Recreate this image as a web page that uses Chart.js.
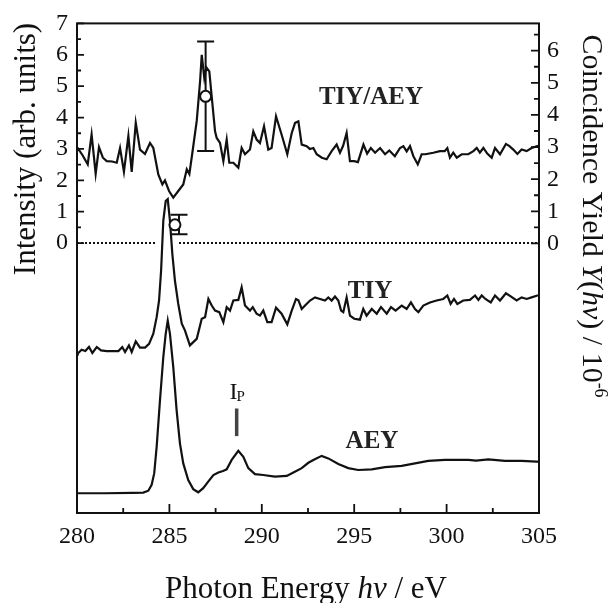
<!DOCTYPE html>
<html><head><meta charset="utf-8">
<script src="https://cdn.jsdelivr.net/npm/chart.js@4.4.0/dist/chart.umd.min.js"></script>
<style>html,body{margin:0;padding:0;background:#fff;}#wrap{width:614px;height:603px;position:relative;}</style>
</head><body><div id="wrap"><canvas id="c" width="614" height="603"></canvas></div>
<script>
// ---- data (photon energy in eV, intensity in arb. units on the left axis) ----
const ratioE=[280.0,280.07,280.3,280.58,280.79,281.01,281.19,281.4,281.61,281.9,
282.15,282.33,282.54,282.78,282.96,283.18,283.41,283.68,283.95,284.13,
284.40,284.62,284.76,284.98,285.21,285.48,285.75,285.94,286.08,286.26,
286.48,286.66,286.75,286.89,287.0,287.16,287.3,287.47,287.56,287.74,
287.92,288.10,288.24,288.46,288.73,288.91,289.09,289.36,289.54,289.72,
289.90,290.12,290.35,290.53,290.77,291.07,291.38,291.62,291.80,291.98,
292.16,292.43,292.6,292.79,292.97,293.25,293.51,293.78,294.05,294.23,
294.4,294.59,294.77,295.0,295.2,295.5,295.7,295.9,296.13,296.4,
296.67,296.9,297.2,297.48,297.66,297.84,298.02,298.2,298.44,298.65,
298.85,299.28,299.64,299.9,300.04,300.18,300.36,300.55,300.82,301.17,
301.45,301.63,301.8,301.99,302.2,302.44,302.62,302.89,303.21,303.4,
303.61,303.83,304.06,304.33,304.6,304.91,305.0];
const ratioV=[2.95,3.0,2.8,2.51,3.46,2.21,3.06,2.72,2.61,2.6,
2.56,3.03,2.27,3.41,2.27,3.83,2.98,2.84,3.19,3.03,
2.19,1.87,2.0,1.66,1.45,1.66,1.87,2.35,2.2,2.95,
3.9,5.15,6.0,5.26,5.6,5.47,4.6,3.56,3.35,3.19,
2.61,3.30,2.56,2.56,2.40,3.03,2.83,2.98,3.56,3.30,
3.19,3.72,2.98,3.03,4.04,3.46,2.83,3.51,3.83,3.88,
3.14,3.09,3.0,3.03,2.83,2.72,2.67,2.93,3.14,2.88,
3.1,3.51,2.61,2.61,2.58,3.14,2.85,3.03,2.88,3.03,
2.83,2.95,2.77,3.03,3.09,2.92,3.09,2.77,2.51,2.83,
2.83,2.88,2.93,2.93,3.03,2.72,2.88,2.72,2.83,2.83,
2.93,3.03,2.88,3.03,2.85,2.72,3.03,2.83,3.16,3.09,
2.98,2.84,2.98,2.93,3.03,3.09,3.1];
const tiyE=[280.0,280.04,280.25,280.45,280.65,280.83,281.07,281.3,281.61,282.24,
282.45,282.6,282.81,282.96,283.18,283.41,283.68,283.9,284.13,284.31,
284.44,284.55,284.67,284.80,284.91,285.03,285.16,285.30,285.48,285.67,
285.84,286.11,286.39,286.48,286.75,286.93,287.11,287.29,287.47,287.70,
287.92,288.10,288.28,288.46,288.73,288.91,289.09,289.36,289.51,289.72,
289.90,290.08,290.30,290.53,290.77,291.07,291.38,291.62,291.85,291.98,
292.16,292.34,292.61,292.88,293.15,293.42,293.6,293.78,293.96,294.14,
294.29,294.41,294.59,294.77,295.0,295.31,295.49,295.67,295.95,296.22,
296.45,296.76,296.99,297.24,297.57,297.84,298.07,298.29,298.47,298.74,
299.10,299.46,299.82,300.04,300.22,300.40,300.58,300.90,301.26,301.54,
301.72,301.90,302.1,302.39,302.62,302.89,303.21,303.47,303.79,304.06,
304.33,304.60,304.91,305.0];
const tiyV=[-3.5,-3.52,-3.40,-3.44,-3.31,-3.50,-3.31,-3.42,-3.44,-3.44,
-3.31,-3.47,-3.26,-3.47,-3.13,-3.33,-3.33,-3.21,-2.89,-2.36,
-1.83,-0.88,0.71,1.34,1.40,0.71,-0.35,-1.2,-1.94,-2.57,
-2.78,-3.26,-3.10,-3.05,-2.41,-2.36,-1.78,-1.99,-2.15,-2.20,
-2.52,-2.04,-2.15,-1.83,-1.81,-1.41,-1.99,-2.15,-2.04,-2.25,
-2.31,-2.15,-2.52,-2.52,-2.06,-2.25,-2.59,-2.15,-1.78,-1.82,
-2.10,-1.99,-1.83,-1.73,-1.78,-1.83,-1.73,-1.83,-1.70,-1.83,
-2.15,-2.20,-1.73,-2.31,-2.41,-2.44,-2.10,-2.31,-2.10,-2.25,
-2.04,-2.25,-2.04,-2.15,-1.99,-2.10,-1.89,-2.10,-2.20,-1.99,
-1.89,-1.83,-1.78,-1.67,-1.94,-1.78,-1.94,-1.83,-1.81,-1.67,
-1.81,-1.67,-1.78,-1.89,-1.67,-1.83,-1.60,-1.70,-1.83,-1.73,
-1.78,-1.73,-1.67,-1.67];
const aeyE=[280.0,281.5,283.0,283.59,283.86,284.04,284.18,284.31,284.49,284.67,
284.80,284.91,285.03,285.21,285.39,285.57,285.75,286.02,286.29,286.56,
286.83,287.10,287.38,287.65,287.9,288.10,288.37,288.73,289.0,289.27,
289.63,290.08,290.71,291.35,291.71,292.16,292.52,292.79,293.24,293.6,
294.14,294.68,295.22,295.95,296.67,297.57,298.29,299.01,299.91,301.17,
301.6,302.26,303.16,304.06,304.87,305.0];
const aeyV=[-7.97,-7.97,-7.96,-7.95,-7.89,-7.70,-7.33,-6.49,-5.01,-3.63,
-2.89,-2.47,-2.89,-3.95,-5.32,-6.38,-7.02,-7.55,-7.84,-7.94,
-7.81,-7.60,-7.39,-7.31,-7.26,-7.21,-6.91,-6.62,-6.81,-7.17,
-7.36,-7.39,-7.44,-7.42,-7.31,-7.17,-7.0,-6.91,-6.78,-6.86,
-7.04,-7.17,-7.23,-7.21,-7.14,-7.10,-7.02,-6.94,-6.91,-6.91,
-6.93,-6.89,-6.94,-6.94,-6.96,-6.96];
// dotted zero line segments (interrupted at the TIY peak)
const zeroStart=[280,285.52];
const zeroEnd=[284.33,305];
// coincidence yield points (right axis, 10^-6) with error bars
const coinE=[286.96,285.30];
const coinY=[4.58,0.58];
const errE=[286.96,285.52];
const errLo=[2.88,0.29];
const errHi=[6.29,0.89];
// ionisation potential marker (left axis units)
const ipE=[288.64];
const ipLo=[-6.15];
const ipHi=[-5.27];
// ticks
const xTicks=[280,282.5,285,287.5,290,292.5,295,297.5,300,302.5,305];
const xLabels=[280,285,290,295,300,305];
const yTicks=[0,0.5,1,1.5,2,2.5,3,3.5,4,4.5,5,5.5,6,6.5,7];
const yLabels=[0,1,2,3,4,5,6,7];
const y2Ticks=[0,0.5,1,1.5,2,2.5,3,3.5,4,4.5,5,5.5,6,6.5];
const y2Labels=[0,1,2,3,4,5,6];
const curveNames=['TIY/AEY','TIY','AEY'];

const SERIF='"Liberation Serif","Times New Roman",serif';
const INK='#111';
const pts=(E,V)=>E.map((x,i)=>({x:x,y:V[i]}));
const zeroPts=[];
zeroStart.forEach((s,i)=>{zeroPts.push({x:s,y:0},{x:zeroEnd[i],y:0},{x:zeroEnd[i]+0.001,y:null});});

function rich(ctx,segs,x,y){
  let w=0;segs.forEach(s=>{ctx.font=s.f;w+=ctx.measureText(s.t).width;});
  let cx=x-w/2;
  segs.forEach(s=>{ctx.font=s.f;ctx.fillText(s.t,cx,y+(s.dy||0));cx+=ctx.measureText(s.t).width;});
}

const deco={
  id:'deco',
  beforeDatasetsDraw(chart){
    const {ctx,scales}=chart;ctx.save();
    ctx.strokeStyle=INK;ctx.lineWidth=2;
    errE.forEach((e,i)=>{
      const px=scales.x.getPixelForValue(e);
      const t=scales.y2.getPixelForValue(errHi[i]),b=scales.y2.getPixelForValue(errLo[i]);
      ctx.beginPath();ctx.moveTo(px,t);ctx.lineTo(px,b);
      ctx.moveTo(px-8.5,t);ctx.lineTo(px+8.5,t);
      ctx.moveTo(px-8.5,b);ctx.lineTo(px+8.5,b);ctx.stroke();
    });
    ctx.strokeStyle='#444';ctx.lineWidth=3.5;
    ipE.forEach((e,i)=>{
      const px=scales.x.getPixelForValue(e);
      ctx.beginPath();ctx.moveTo(px,scales.y.getPixelForValue(ipHi[i]));ctx.lineTo(px,scales.y.getPixelForValue(ipLo[i]));ctx.stroke();
    });
    ctx.restore();
  },
  afterDraw(chart){
    const {ctx,chartArea:a,scales}=chart;ctx.save();
    ctx.strokeStyle=INK;ctx.lineWidth=2;
    ctx.strokeRect(a.left,a.top,a.right-a.left,a.bottom-a.top);
    ctx.lineWidth=1.8;ctx.beginPath();
    xTicks.forEach(v=>{const p=scales.x.getPixelForValue(v);const L=v%5===0?9:5;ctx.moveTo(p,a.bottom);ctx.lineTo(p,a.bottom-L);});
    yTicks.forEach(v=>{const p=scales.y.getPixelForValue(v);const L=Number.isInteger(v)?7:4;ctx.moveTo(a.left,p);ctx.lineTo(a.left+L,p);});
    y2Ticks.forEach(v=>{const p=scales.y2.getPixelForValue(v);const L=Number.isInteger(v)?8:5;ctx.moveTo(a.right,p);ctx.lineTo(a.right-L,p);});
    ctx.stroke();
    ctx.fillStyle=INK;ctx.textBaseline='alphabetic';ctx.textAlign='left';
    // x title
    rich(ctx,[{t:'Photon Energy ',f:'31px '+SERIF},{t:'hν',f:'italic 31px '+SERIF},{t:' / eV',f:'31px '+SERIF}],306,598);
    // left title
    ctx.save();ctx.translate(35,149);ctx.rotate(-Math.PI/2);
    rich(ctx,[{t:'Intensity (arb. units)',f:'31px '+SERIF}],0,0);ctx.restore();
    // right title
    ctx.save();ctx.translate(583,216);ctx.rotate(Math.PI/2);
    rich(ctx,[{t:'Coincidence Yield ',f:'30px '+SERIF},{t:'Y',f:'italic 30px '+SERIF},{t:'(',f:'30px '+SERIF},{t:'hν',f:'italic 30px '+SERIF},{t:') / 10',f:'30px '+SERIF},{t:'-6',f:'18px '+SERIF,dy:-12}],0,0);
    ctx.restore();
    // curve names
    ctx.fillStyle='#222';ctx.textAlign='center';ctx.font='bold 25px '+SERIF;
    ctx.fillText(curveNames[0],371,104);
    ctx.fillText(curveNames[1],370,298);
    ctx.fillText(curveNames[2],372,448);
    // Ip label
    ctx.fillStyle=INK;ctx.textAlign='left';
    ctx.font='24px '+SERIF;ctx.fillText('I',229.5,398.5);
    ctx.font='15px '+SERIF;ctx.fillText('P',236.5,401);
    ctx.restore();
  }
};

const lineDs=(E,V)=>({data:pts(E,V),yAxisID:'y',borderColor:INK,borderWidth:2.2,pointRadius:0,tension:0,fill:false});
new Chart(document.getElementById('c'),{
  type:'line',
  data:{datasets:[
    {data:pts(coinE,coinY),yAxisID:'y2',showLine:false,pointRadius:5.5,pointBackgroundColor:'#fff',pointBorderColor:INK,pointBorderWidth:2},
    lineDs(ratioE,ratioV),
    lineDs(tiyE,tiyV),
    lineDs(aeyE,aeyV),
    {data:zeroPts,yAxisID:'y',borderColor:INK,borderWidth:2,borderDash:[2,2],pointRadius:0,spanGaps:false}
  ]},
  options:{
    responsive:false,animation:false,devicePixelRatio:1,events:[],
    plugins:{legend:{display:false},tooltip:{enabled:false}},
    layout:{padding:{top:22,left:0,right:0,bottom:0}},
    scales:{
      x:{type:'linear',position:'bottom',min:280,max:305,
        afterBuildTicks:ax=>{ax.ticks=xTicks.map(v=>({value:v}));},
        ticks:{autoSkip:false,maxRotation:0,padding:9,color:INK,font:{family:SERIF,size:24},callback:v=>xLabels.includes(v)?String(v):''},
        grid:{display:false,drawTicks:false},border:{display:false},
        afterFit:ax=>{ax.height=90;}},
      y:{type:'linear',position:'left',min:-8.6,max:7,
        afterBuildTicks:ax=>{ax.ticks=yTicks.map(v=>({value:v}));},
        ticks:{autoSkip:false,padding:9,color:INK,font:{family:SERIF,size:24},callback:v=>yLabels.includes(v)?String(v):''},
        grid:{display:false,drawTicks:false},border:{display:false},
        afterFit:ax=>{ax.width=77;}},
      y2:{type:'linear',position:'right',min:-8.39,max:6.85,
        afterBuildTicks:ax=>{ax.ticks=y2Ticks.map(v=>({value:v}));},
        ticks:{autoSkip:false,padding:8,color:INK,font:{family:SERIF,size:24},callback:v=>y2Labels.includes(v)?String(v):''},
        grid:{display:false,drawTicks:false},border:{display:false},
        afterFit:ax=>{ax.width=75;}}
    }
  },
  plugins:[deco]
});
</script></body></html>
